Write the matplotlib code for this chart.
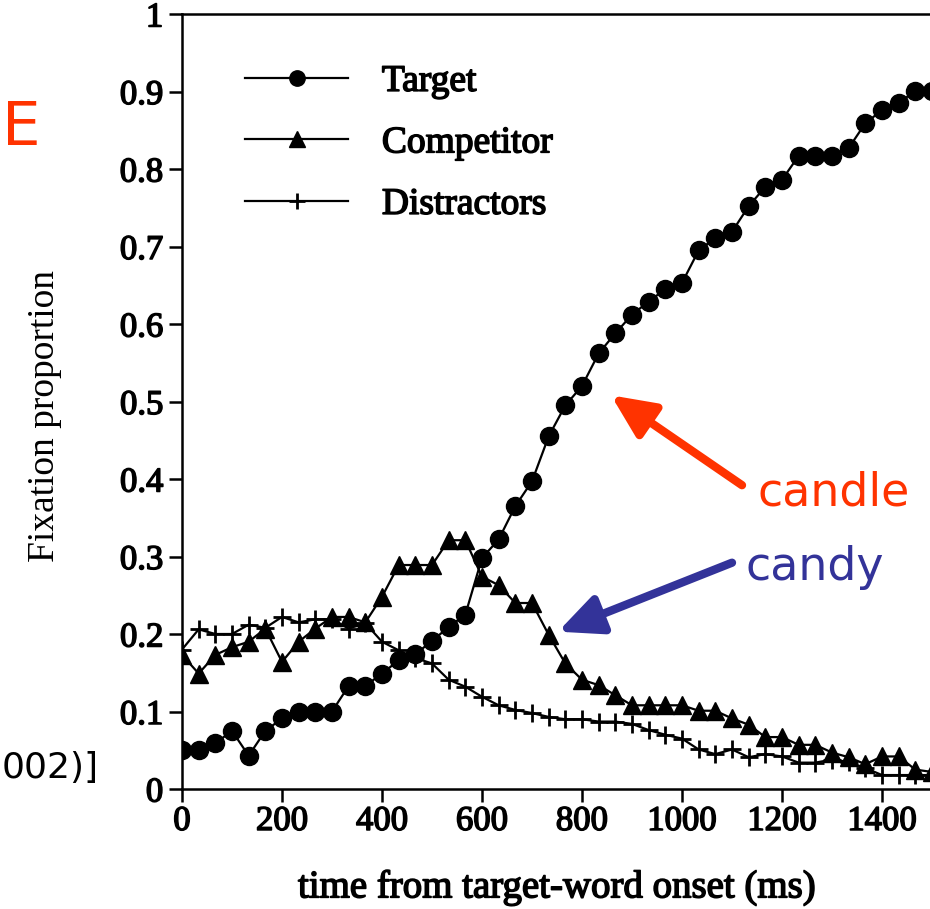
import matplotlib
matplotlib.use('Agg')
import matplotlib.pyplot as plt
import matplotlib.patheffects as pe
import numpy as np

# samples every 33.3 ms (30 Hz eye tracker)
tiempo = np.arange(46) * 100 / 3

target = [0.050, 0.050, 0.059, 0.075, 0.043, 0.075, 0.091, 0.100, 0.100, 0.100,
          0.133, 0.133, 0.149, 0.166, 0.174, 0.191, 0.209, 0.225, 0.298, 0.322,
          0.365, 0.397, 0.455, 0.495, 0.520, 0.562, 0.588, 0.612, 0.629, 0.645,
          0.653, 0.695, 0.711, 0.719, 0.752, 0.777, 0.786, 0.817, 0.817, 0.817,
          0.827, 0.859, 0.876, 0.885, 0.901, 0.901]
competitor = [0.173, 0.149, 0.173, 0.183, 0.190, 0.207, 0.164, 0.190, 0.207, 0.222,
              0.222, 0.215, 0.248, 0.289, 0.289, 0.289, 0.321, 0.321, 0.274, 0.263,
              0.240, 0.240, 0.199, 0.162, 0.141, 0.134, 0.121, 0.108, 0.108, 0.108,
              0.108, 0.101, 0.101, 0.091, 0.083, 0.067, 0.067, 0.057, 0.057, 0.047,
              0.041, 0.032, 0.042, 0.042, 0.025, 0.022]
distractors = [0.180, 0.206, 0.200, 0.200, 0.212, 0.208, 0.222, 0.215, 0.219, 0.219,
               0.207, 0.214, 0.190, 0.179, 0.169, 0.162, 0.141, 0.132, 0.119, 0.108,
               0.102, 0.098, 0.093, 0.090, 0.090, 0.087, 0.087, 0.084, 0.076, 0.070,
               0.065, 0.051, 0.045, 0.051, 0.041, 0.045, 0.042, 0.034, 0.034, 0.038,
               0.035, 0.027, 0.018, 0.018, 0.018, 0.018]

xticks = [0, 200, 400, 600, 800, 1000, 1200, 1400]
yticks = [0, 0.1, 0.2, 0.3, 0.4, 0.5, 0.6, 0.7, 0.8, 0.9, 1]
ytick_labels = ['0', '0.1', '0.2', '0.3', '0.4', '0.5', '0.6', '0.7', '0.8', '0.9', '1']

plt.rcParams['font.family'] = ['Liberation Serif', 'DejaVu Serif']

W, H = 930, 909
grosso = [pe.withStroke(linewidth=1.1, foreground='black')]

fig = plt.figure(figsize=(W / 100, H / 100), dpi=100)
ax = fig.add_axes([182 / W, 1 - 789 / H, 750 / W, 775 / H])

ax.plot(tiempo, target, '-o', color='black', lw=1.6, ms=13, label='Target')
ax.plot(tiempo, competitor, '-^', color='black', lw=1.6, ms=13, label='Competitor')
ax.plot(tiempo, distractors, '-+', color='black', lw=1.6, ms=13, mew=2, label='Distractors')

ax.set_xlim(0, 1500)
ax.set_ylim(0, 1)
ax.set_xticks(xticks, [str(v) for v in xticks], fontfamily='Liberation Serif',
              path_effects=grosso)
ax.set_yticks(yticks, ytick_labels, fontfamily='Liberation Serif',
              path_effects=grosso)
ax.tick_params(direction='out', length=9.5, width=1.8, labelsize=25)
ax.tick_params(axis='x', pad=2)
ax.tick_params(axis='y', pad=4)
for s in ax.spines.values():
    s.set_linewidth(1.8)

ax.set_xlabel('time from target-word onset (ms)', fontsize=28, path_effects=grosso)
ax.set_ylabel('Fixation proportion', fontsize=27)
ax.xaxis.set_label_coords(0.5, -0.103)
ax.yaxis.set_label_coords(-0.16, 0.481)

leg = ax.legend(loc='upper left', bbox_to_anchor=(0.084, 0.935), frameon=False,
                borderpad=0, borderaxespad=0,
                handlelength=2.75, handletextpad=0.9, labelspacing=0.72,
                markerscale=0.85, prop={'size': 27})
for t in leg.get_texts():
    t.set_path_effects(grosso)

# anotaciones de la diapositiva
rojo = '#FF3300'
azul = '#333399'
flecha = '-|>,head_length=1.3,head_width=0.6'
ax.annotate('', xy=(858, 0.508), xytext=(1120, 0.392),
            arrowprops=dict(arrowstyle=flecha, mutation_scale=20,
                            color=rojo, lw=6, shrinkA=0, shrinkB=0))
ax.annotate('', xy=(752, 0.203), xytext=(1100, 0.292),
            arrowprops=dict(arrowstyle=flecha, mutation_scale=20,
                            color=azul, lw=6, shrinkA=0, shrinkB=0))
fig.text(757 / W, 1 - 505 / H, 'candle', color=rojo, fontsize=33,
         family='DejaVu Sans', va='baseline')
fig.text(745 / W, 1 - 580 / H, 'candy', color=azul, fontsize=33,
         family='DejaVu Sans', va='baseline')
fig.text(2 / W, 1 - 145 / H, 'E', color=rojo, fontsize=44,
         family='DejaVu Sans', va='baseline', ha='left')
fig.text(2 / W, 1 - 778 / H, '002)]', color='black', fontsize=26,
         family='DejaVu Sans', va='baseline', ha='left')

fig.savefig('out.png', dpi=100)
